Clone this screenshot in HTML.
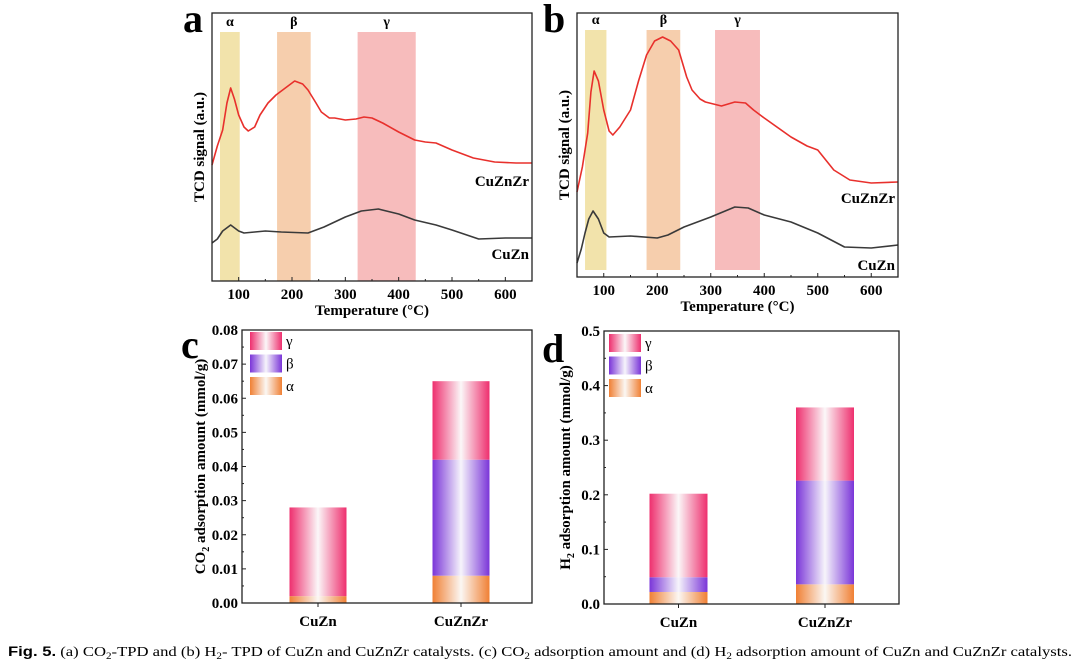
<!DOCTYPE html>
<html><head><meta charset="utf-8"><style>
html,body{margin:0;padding:0;background:#fff;}
svg{display:block;font-family:"Liberation Serif",serif;}
</style></head><body>
<svg id="fig" width="1080" height="669" viewBox="0 0 1080 669" xmlns="http://www.w3.org/2000/svg">
<defs>
<linearGradient id="gG" x1="0" x2="1" y1="0" y2="0"><stop offset="0" stop-color="#ee2f6e"/><stop offset="0.5" stop-color="#fbf7f8"/><stop offset="1" stop-color="#ee2f6e"/></linearGradient>
<linearGradient id="gB" x1="0" x2="1" y1="0" y2="0"><stop offset="0" stop-color="#7a35d8"/><stop offset="0.5" stop-color="#f6f4fb"/><stop offset="1" stop-color="#7a35d8"/></linearGradient>
<linearGradient id="gA" x1="0" x2="1" y1="0" y2="0"><stop offset="0" stop-color="#f08034"/><stop offset="0.5" stop-color="#fbf7f3"/><stop offset="1" stop-color="#f08034"/></linearGradient>
</defs>
<g id="root"></g>
<text x="8" y="656" font-size="13.5" textLength="1064" lengthAdjust="spacingAndGlyphs"><tspan font-family="Liberation Sans" font-weight="bold">Fig. 5.</tspan>  (a) CO<tspan font-size="9" dy="3">2</tspan><tspan dy="-3">-TPD and (b) H</tspan><tspan font-size="9" dy="3">2</tspan><tspan dy="-3">- TPD of CuZn and CuZnZr catalysts. (c) CO</tspan><tspan font-size="9" dy="3">2</tspan><tspan dy="-3"> adsorption amount and (d) H</tspan><tspan font-size="9" dy="3">2</tspan><tspan dy="-3"> adsorption amount of CuZn and CuZnZr catalysts.</tspan></text>
</svg>
<script>
// ---- Panel a data (CO2-TPD) ----
const tempA_red = [50,60,70,78,85,92,100,110,118,130,140,155,170,185,205,220,230,245,255,270,280,300,320,335,350,370,400,430,450,470,500,540,580,620,650];
const sigA_red  = [116,135,151,178,193,182,166,154,150,154,166,178,186,192,200,197,191,178,169,163,163,161,162,164,163,158,149,141,139,138,131,123,119,118,118];
const tempA_blk = [50,60,70,85,100,110,130,150,180,230,260,300,330,362,400,430,470,500,550,600,650];
const sigA_blk  = [38,42,50,56,50,48,49,50,49,48,54,64,70,72,67,61,56,51,42,43,43];
// ---- Panel b data (H2-TPD) ----
const tempB_red = [50,60,70,76,82,90,100,110,117,130,150,165,180,195,210,225,240,255,265,280,290,320,345,365,380,400,450,480,500,530,560,600,650];
const sigB_red  = [85,110,144,185,206,196,167,146,142,150,167,196,222,236,240,236,227,200,187,178,175,171,175,174,167,159,140,131,127,107,97,94,95];
const tempB_blk = [50,58,65,72,80,90,100,110,150,200,220,250,300,345,370,400,450,500,550,600,650];
const sigB_blk  = [14,28,44,58,66,58,44,40,41,39,42,50,60,70,69,62,55,44,30,29,32];
const bandsA = [[65,102],[172,235],[323,432]];
const bandsB = [[65,105],[180,243],[308,392]];
const bandNames = ['α','β','γ'];
const tempTicks = [100,200,300,400,500,600];
// ---- Panel c/d data ----
const catalysts = ['CuZn','CuZnZr'];
const co2Alpha = [0.002,0.008];
const co2Beta  = [0.000,0.034];
const co2Gamma = [0.026,0.023];
const co2Ticks = [0,0.01,0.02,0.03,0.04,0.05,0.06,0.07,0.08];
const h2Alpha = [0.022,0.036];
const h2Beta  = [0.027,0.190];
const h2Gamma = [0.153,0.134];
const h2Ticks = [0,0.1,0.2,0.3,0.4,0.5];

const NS='http://www.w3.org/2000/svg';
const root=document.getElementById('root');
function el(tag,attrs,parent,text){const e=document.createElementNS(NS,tag);for(const k in attrs)e.setAttribute(k,attrs[k]);if(text!==undefined)e.textContent=text;(parent||root).appendChild(e);return e;}

function tpd(cfg){
  const g=el('g',{});
  
  
  const sx=t=>cfg.x0+(t-50)/600*(cfg.x1-cfg.x0);
  const sy=v=>cfg.y1-v/ (cfg.ymax)*(cfg.y1-cfg.y0);
  const cols=['#f1e0a2','#f5c9a4','#f6b5b5'];
  cfg.bands.forEach((b,i)=>{
    const r=el('rect',{x:sx(b[0]),y:cfg.bandTop,width:sx(b[1])-sx(b[0]),height:cfg.bandBot-cfg.bandTop,fill:cols[i],opacity:0.9},g);
    
    
    const t=el('text',{x:(sx(b[0])+sx(b[1]))/2,y:cfg.bandTop-6,'text-anchor':'middle','font-size':14,'font-weight':'bold'},g,bandNames[i]);
    
    
  });
  [[cfg.tr,cfg.sr,'#e8302c','cuznzr-curve'],[cfg.tb,cfg.sb,'#3a3a3a','cuzn-curve']].forEach(s=>{
    const p=el('polyline',{points:s[0].map((t,i)=>sx(t)+','+sy(s[1][i])).join(' '),fill:'none',stroke:s[2],'stroke-width':1.6,'stroke-linejoin':'round'},g);
    
    
  });
  const ax=el('rect',{x:cfg.x0,y:cfg.y0,width:cfg.x1-cfg.x0,height:cfg.y1-cfg.y0,fill:'none',stroke:'#222','stroke-width':1.3},g);
  
  
  tempTicks.forEach(t=>{
    el('line',{x1:sx(t),x2:sx(t),y1:cfg.y1,y2:cfg.y1-4,stroke:'#222'},g);
    el('line',{x1:sx(t-50),x2:sx(t-50),y1:cfg.y1,y2:cfg.y1-2,stroke:'#222'},g);
    const tl=el('text',{x:sx(t),y:cfg.y1+18,'text-anchor':'middle','font-size':15,'font-weight':'bold'},g,String(t));
    
    
  });
  const xt=el('text',{x:(cfg.x0+cfg.x1)/2,y:cfg.y1+34,'text-anchor':'middle','font-size':15,'font-weight':'bold'},g,'Temperature (°C)');
  
  
  const yt=el('text',{transform:`translate(${cfg.x0-8},${(cfg.y0+cfg.y1)/2}) rotate(-90)`,'text-anchor':'middle','font-size':15,'font-weight':'bold'},g,'TCD signal (a.u.)');
  
  
  const l1=el('text',{x:cfg.x1-3,y:cfg.lab1,'text-anchor':'end','font-size':15,'font-weight':'bold'},g,'CuZnZr');
  
  
  const l2=el('text',{x:cfg.x1-3,y:cfg.lab2,'text-anchor':'end','font-size':15,'font-weight':'bold'},g,'CuZn');
  
  
  const pl=el('text',{x:cfg.letterX,y:32,'font-size':40,'font-weight':'bold'},g,cfg.letter);
  
  
}
tpd({name:'panel-a-co2-tpd',x0:212,x1:532,y0:13,y1:281,ymax:268,bands:bandsA,bandTop:32,bandBot:281,tr:tempA_red,sr:sigA_red,tb:tempA_blk,sb:sigA_blk,lab1:186,lab2:259,letter:'a',letterX:183});
tpd({name:'panel-b-h2-tpd',x0:577,x1:898,y0:13,y1:277,ymax:264,bands:bandsB,bandTop:30,bandBot:270,tr:tempB_red,sr:sigB_red,tb:tempB_blk,sb:sigB_blk,lab1:203,lab2:270,letter:'b',letterX:543});

function bars(cfg){
  const g=el('g',{});
  
  
  const sy=v=>cfg.y1-v/cfg.ymax*(cfg.y1-cfg.y0);
  catalysts.forEach((c,i)=>{
    let base=0;
    [[cfg.a,'url(#gA)','alpha'],[cfg.b,'url(#gB)','beta'],[cfg.g,'url(#gG)','gamma']].forEach(s=>{
      const v=s[0][i];
      if(v>0){
        const r=el('rect',{x:cfg.cx[i]-cfg.bw/2,y:sy(base+v),width:cfg.bw,height:sy(base)-sy(base+v),fill:s[1]},g);
        
        
      }
      base+=v;
    });
    el('line',{x1:cfg.cx[i],x2:cfg.cx[i],y1:cfg.y1,y2:cfg.y1+4,stroke:'#222'},g);
    const t=el('text',{x:cfg.cx[i],y:cfg.y1+23,'text-anchor':'middle','font-size':15,'font-weight':'bold'},g,c);
    
    
  });
  const ax=el('rect',{x:cfg.x0,y:cfg.y0,width:cfg.x1-cfg.x0,height:cfg.y1-cfg.y0,fill:'none',stroke:'#222','stroke-width':1.3},g);
  
  
  cfg.ticks.forEach((t,i)=>{
    el('line',{x1:cfg.x0,x2:cfg.x0+4,y1:sy(t),y2:sy(t),stroke:'#222'},g);
    if(i<cfg.ticks.length-1){const m=(t+cfg.ticks[i+1])/2;el('line',{x1:cfg.x0,x2:cfg.x0+2,y1:sy(m),y2:sy(m),stroke:'#222'},g);}
    const tl=el('text',{x:cfg.x0-4,y:sy(t)+5,'text-anchor':'end','font-size':15,'font-weight':'bold'},g,t.toFixed(cfg.dec));
    
    
  });
  const yt=el('text',{transform:`translate(${cfg.ytx},${(cfg.y0+cfg.y1)/2}) rotate(-90)`,'text-anchor':'middle','font-size':15,'font-weight':'bold'},g);
  
  
  el('tspan',{},yt,cfg.mol);
  el('tspan',{'font-size':10,dy:4},yt,'2');
  el('tspan',{dy:-4},yt,' adsorption amount (mmol/g)');
  [['url(#gG)','γ'],['url(#gB)','β'],['url(#gA)','α']].forEach((L,i)=>{
    const r=el('rect',{x:cfg.lx,y:cfg.ly+i*22.5,width:32,height:18,fill:L[0]},g);
    
    
    const t=el('text',{x:cfg.lx+36,y:cfg.ly+i*22.5+14,'font-size':15},g,L[1]);
    
    
  });
  const pl=el('text',{x:cfg.letterX,y:cfg.letterY,'font-size':40,'font-weight':'bold'},g,cfg.letter);
  
  
}
bars({name:'panel-c-co2-adsorption',x0:242,x1:532,y0:330,y1:603,ymax:0.08,cx:[318,461],bw:57,a:co2Alpha,b:co2Beta,g:co2Gamma,ticks:co2Ticks,dec:2,mol:'CO',ytx:205,lx:250,ly:332,letter:'c',letterX:181,letterY:358});
bars({name:'panel-d-h2-adsorption',x0:604,x1:899,y0:331,y1:604,ymax:0.5,cx:[678.5,825],bw:58,a:h2Alpha,b:h2Beta,g:h2Gamma,ticks:h2Ticks,dec:1,mol:'H',ytx:570,lx:609,ly:334,letter:'d',letterX:542,letterY:362});
</script>
</body></html>
